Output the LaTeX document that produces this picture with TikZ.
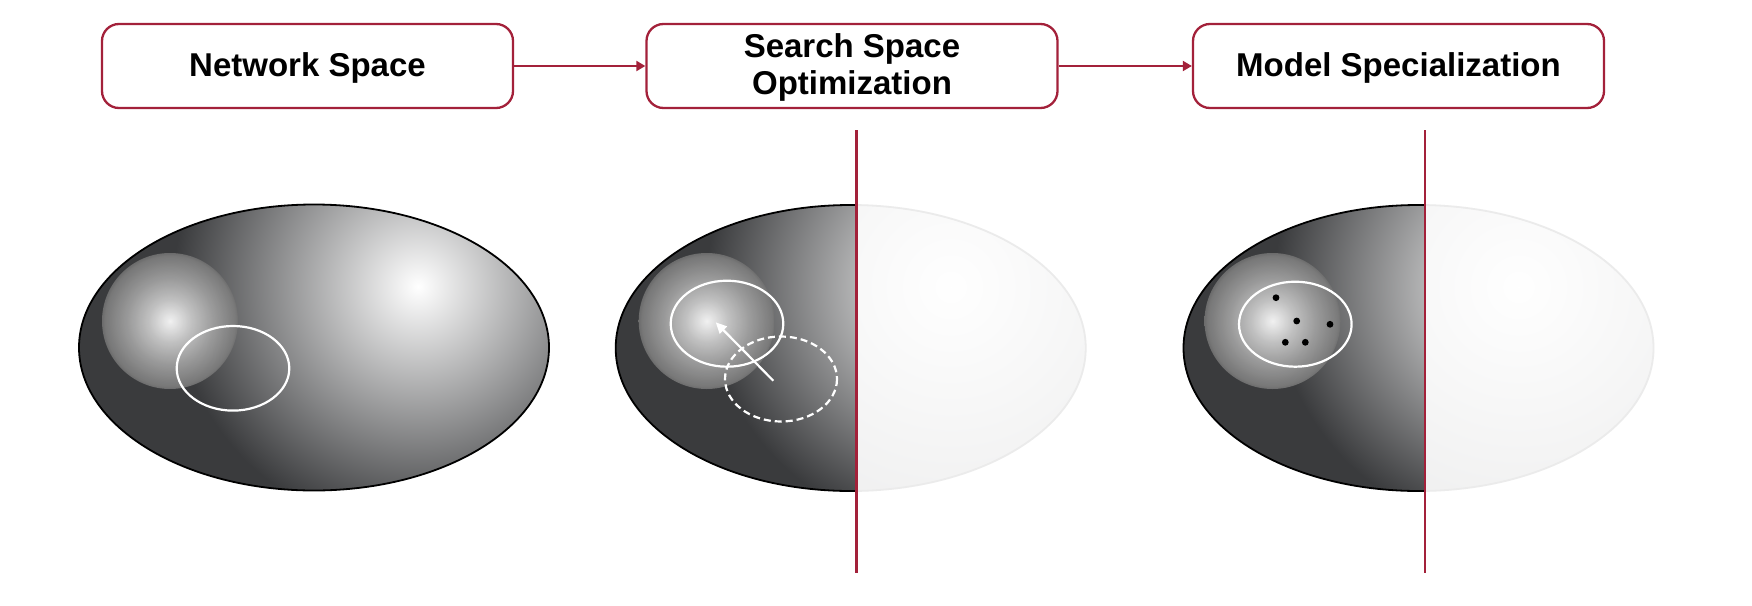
\documentclass[tikz,border=0pt]{standalone}
\usepackage{fontspec}
\setmainfont{Liberation Sans}
\usetikzlibrary{arrows.meta}
\definecolor{crim}{HTML}{A3213A}
\definecolor{darkbg}{HTML}{3A3B3D}
\definecolor{sphA}{HTML}{F2F2F2}
\definecolor{sphB}{HTML}{CACACA}
\definecolor{sphC}{HTML}{A0A0A0}
\definecolor{sphD}{HTML}{7C7C7C}
\definecolor{sphrim}{HTML}{707070}
\pgfdeclareradialshading{bigsh}{\pgfpointorigin}{color(0bp)=(white); color(25bp)=(darkbg); color(50bp)=(darkbg)}
\pgfdeclareradialshading{sph}{\pgfpointorigin}{color(0bp)=(white); color(2bp)=(sphA); color(8bp)=(sphB); color(16bp)=(sphC); color(24bp)=(sphD); color(25bp)=(sphrim); color(50bp)=(sphrim)}
\begin{document}
\begin{tikzpicture}[x=1pt,y=-1pt,
  stage/.style={draw=crim, line width=2.3pt, rounded corners=17pt, minimum width=411pt, minimum height=84pt, align=center, font=\fontsize{33}{37}\selectfont\bfseries, text=black, inner sep=0pt, text depth=3pt},
  flow/.style={draw=crim, line width=2pt, -{Triangle[length=9pt,width=10pt]}},
  divider/.style={draw=crim, line width=2.5pt},
  outline/.style={draw=black, line width=1.8pt},
  whiteloop/.style={draw=white, line width=2.2pt},
  dashloop/.style={draw=white, line width=2.2pt, dash pattern=on 7pt off 4pt},
  whitearrow/.style={draw=white, line width=2.2pt, -{Triangle[length=11pt,width=10pt]}},
  veil/.style={fill=white, fill opacity=0.92},
  seed/.style={fill=black}]
\useasboundingbox (0,0) rectangle (1752,605);

% stage boxes
\node[stage] (n1) at (307.5,66) {Network Space};
\node[stage] (n2) at (852,66) {Search Space\\Optimization};
\node[stage] (n3) at (1398.5,66) {Model Specialization};
\draw[flow] (n1.east) -- (n2.west);
\draw[flow] (n2.east) -- (n3.west);

% globe 1
\begin{scope}[shift={(314,347.5)}]
  \fill[darkbg] (0,0) ellipse (235 and 143);
  \begin{scope}
    \clip (0,0) ellipse (235 and 143);
    \shade[shading=bigsh] (104,-61) circle (245);
    \shade[shading=sph, fill opacity=0.93] (-144,-26.5) circle (68);
  \end{scope}
  \draw[outline] (0,0) ellipse (235 and 143);
  \draw[whiteloop] (-81,20.8) ellipse (56.3 and 42.3);
\end{scope}

% globe 2
\begin{scope}[shift={(850.7,348)}]
  \fill[darkbg] (0,0) ellipse (235 and 143);
  \begin{scope}
    \clip (0,0) ellipse (235 and 143);
    \shade[shading=bigsh] (100,-61) circle (245);
    \shade[shading=sph, fill opacity=0.93] (-144,-27) circle (68);
  \end{scope}
  \draw[outline] (0,0) ellipse (235 and 143);
\end{scope}
\draw[whiteloop] (727,323.7) ellipse (56.3 and 43);
\draw[dashloop] (781,379) ellipse (56 and 42.5);
\coordinate (a0) at (773.3,380.7);
\coordinate (a1) at (715.7,322.3);
\draw[whitearrow] (a0) -- (a1);
\fill[veil] (856.7,195) rectangle (1095,500);

% globe 3
\begin{scope}[shift={(1418.5,348)}]
  \fill[darkbg] (0,0) ellipse (235 and 143);
  \begin{scope}
    \clip (0,0) ellipse (235 and 143);
    \shade[shading=bigsh] (100,-61) circle (245);
    \shade[shading=sph, fill opacity=0.93] (-146,-27) circle (68);
  \end{scope}
  \draw[outline] (0,0) ellipse (235 and 143);
\end{scope}
\draw[whiteloop] (1295.3,324.2) ellipse (56.3 and 42.5);
\fill[seed] (1276,297.7) circle (3.4);
\fill[seed] (1296.7,321) circle (3.4);
\fill[seed] (1330,324.3) circle (3.4);
\fill[seed] (1285.3,342.3) circle (3.4);
\fill[seed] (1305.3,342.3) circle (3.4);
\fill[veil] (1425,195) rectangle (1665,500);

% dividers
\coordinate (d2a) at (856.7,130);
\coordinate (d2b) at (856.7,573);
\coordinate (d3a) at (1425,130);
\coordinate (d3b) at (1425,573);
\draw[divider] (d2a) -- (d2b);
\draw[divider] (d3a) -- (d3b);
\end{tikzpicture}
\end{document}
